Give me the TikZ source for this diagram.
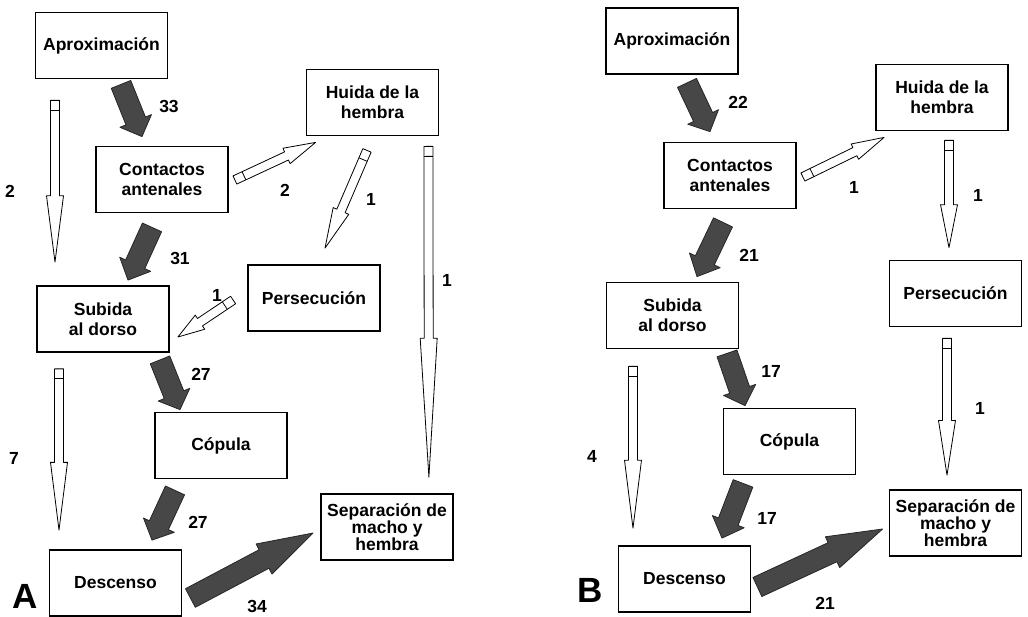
\documentclass[tikz,border=0pt]{standalone}
\usepackage{fontspec}
\setmainfont{Liberation Sans}
\usetikzlibrary{calc}

\newcommand{\blockarrow}[6]{%
  \coordinate (s) at #2;
  \coordinate (e) at #3;
  \coordinate (h) at ($(e)!#6!(s)$);
  \draw[#1] ($(s)!#4!90:(e)$) -- ($(h)!#4!90:(e)$) -- ($(h)!#5!90:(e)$) -- (e)
    -- ($(h)!#5!-90:(e)$) -- ($(h)!#4!-90:(e)$) -- ($(s)!#4!-90:(e)$) -- cycle;
}
\newcommand{\hollowflow}[3]{%
  \blockarrow{hollowarrow}{#1}{#2}{4.5pt}{8.5pt}{#3}
  \coordinate (c) at ($(s)!10pt!(e)$);
  \draw[line width=0.8pt] ($(c)!4.5pt!90:(e)$) -- ($(c)!4.5pt!-90:(e)$);
}
\newcommand{\darkflow}[3]{\blockarrow{darkarrow}{#1}{#2}{10.5pt}{17pt}{#3}}

\begin{document}
\begin{tikzpicture}[x=1pt,y=-1pt,
  box/.style={draw,line width=1.8pt,minimum width=132pt,minimum height=66pt,
    align=center,inner sep=1pt,font=\bfseries\fontsize{17.5}{20}\selectfont},
  num/.style={font=\bfseries\fontsize{17.5}{20}\selectfont,inner sep=0pt},
  panel/.style={font=\bfseries\fontsize{35}{35}\selectfont,inner sep=0pt},
  hollowarrow/.style={draw=black,fill=white,line width=0.8pt,line join=round},
  darkarrow/.style={draw=black!85,fill=black!72,line width=0.8pt,line join=round}]
\useasboundingbox (0,0) rectangle (1028,617);

% A
\node[box] (aproxA) at (101.5,45.5) {Aproximación};
\node[box] (huidaA) at (372.5,102.5) {Huida de la\\hembra};
\node[box] (contA) at (162,179.5) {Contactos\\antenales};
\node[box] (persA) at (314,298) {Persecución};
\node[box] (subA) at (103,319) {Subida\\al dorso};
\node[box] (copA) at (221,445.5) {Cópula};
\node[box,font=\bfseries\fontsize{17.5}{17}\selectfont] (sepA) at (387,527) {Separación de\\macho y\\hembra};
\node[box] (descA) at (115.5,583) {Descenso};
\node[panel] (labA) at (25,596) {A};

\darkflow{($(aproxA.south)+(19.5,5)$)}{($(contA.north)+(-20,-9)$)}{0.3}
\hollowflow{($(aproxA.south)+(-46.5,21)$)}{($(subA.north)+(-48,-23)$)}{0.41}
\hollowflow{($(contA.east)+(6,0.5)$)}{($(huidaA.south west)+(10,6)$)}{0.36}
\hollowflow{($(huidaA.south)+(-5.5,14)$)}{($(persA.north)+(11,-16)$)}{0.38}
\hollowflow{($(huidaA.south east)+(-11,10)$)}{($(sepA.north east)+(-25,-16)$)}{0.42}
\darkflow{($(contA.south)+(-10,14)$)}{($(subA.north)+(25,-5)$)}{0.3}
\hollowflow{($(persA.west)+(-14,2)$)}{($(subA.east)+(8,18)$)}{0.4}
\darkflow{($(subA.south)+(57,7)$)}{($(copA.north)+(-41,-2)$)}{0.3}
\hollowflow{($(subA.south)+(-44,16)$)}{($(descA.north)+(-56.5,-19)$)}{0.42}
\darkflow{($(copA.south)+(-46,11)$)}{($(descA.north)+(36.5,-9)$)}{0.3}
\darkflow{($(descA.east)+(8,15)$)}{($(sepA.west)+(-7,6)$)}{0.4}

\node[num] (nA1) at (169,106) {33};
\node[num] (nA2) at (10,191) {2};
\node[num] (nA3) at (285,190) {2};
\node[num] (nA4) at (371,199) {1};
\node[num] (nA5) at (180,258) {31};
\node[num] (nA6) at (217,295) {1};
\node[num] (nA7) at (447,280) {1};
\node[num] (nA8) at (201,374) {27};
\node[num] (nA9) at (14,458) {7};
\node[num] (nA10) at (198,522) {27};
\node[num] (nA11) at (257,606) {34};

% B
\node[box] (aproxB) at (672,41) {Aproximación};
\node[box] (huidaB) at (942,97.5) {Huida de la\\hembra};
\node[box] (contB) at (730,175.5) {Contactos\\antenales};
\node[box] (persB) at (955.5,293.5) {Persecución};
\node[box] (subB) at (672.5,315.5) {Subida\\al dorso};
\node[box] (copB) at (789.5,441.5) {Cópula};
\node[box,font=\bfseries\fontsize{17.5}{17}\selectfont] (sepB) at (955.5,523) {Separación de\\macho y\\hembra};
\node[box] (descB) at (684.5,579) {Descenso};
\node[panel] (labB) at (590,590) {B};

\darkflow{($(aproxB.south)+(15,8)$)}{($(contB.north)+(-20,-10)$)}{0.3}
\hollowflow{($(contB.east)+(6,1.5)$)}{($(huidaB.south west)+(9,6)$)}{0.36}
\hollowflow{($(huidaB.south)+(7,9)$)}{($(persB.north)+(-6.5,-12)$)}{0.4}
\darkflow{($(contB.south)+(-7,13)$)}{($(subB.north)+(24.5,-5)$)}{0.3}
\hollowflow{($(subB.south)+(-39.5,17)$)}{($(descB.north)+(-51.5,-17)$)}{0.42}
\darkflow{($(subB.south)+(54.5,4)$)}{($(copB.north)+(-44.5,-2)$)}{0.3}
\hollowflow{($(persB.south)+(-8.5,11)$)}{($(sepB.north)+(-8.5,-14)$)}{0.4}
\darkflow{($(copB.south)+(-46.5,8)$)}{($(descB.north)+(37.5,-7)$)}{0.3}
\darkflow{($(descB.east)+(6,8)$)}{($(sepB.west)+(-6,6)$)}{0.4}

\node[num] (nB1) at (738,102) {22};
\node[num] (nB2) at (854,187) {1};
\node[num] (nB3) at (978,195) {1};
\node[num] (nB4) at (749,255) {21};
\node[num] (nB5) at (771,371) {17};
\node[num] (nB6) at (592,456) {4};
\node[num] (nB7) at (980,408) {1};
\node[num] (nB8) at (767,518) {17};
\node[num] (nB9) at (825,603) {21};
\end{tikzpicture}
\end{document}
